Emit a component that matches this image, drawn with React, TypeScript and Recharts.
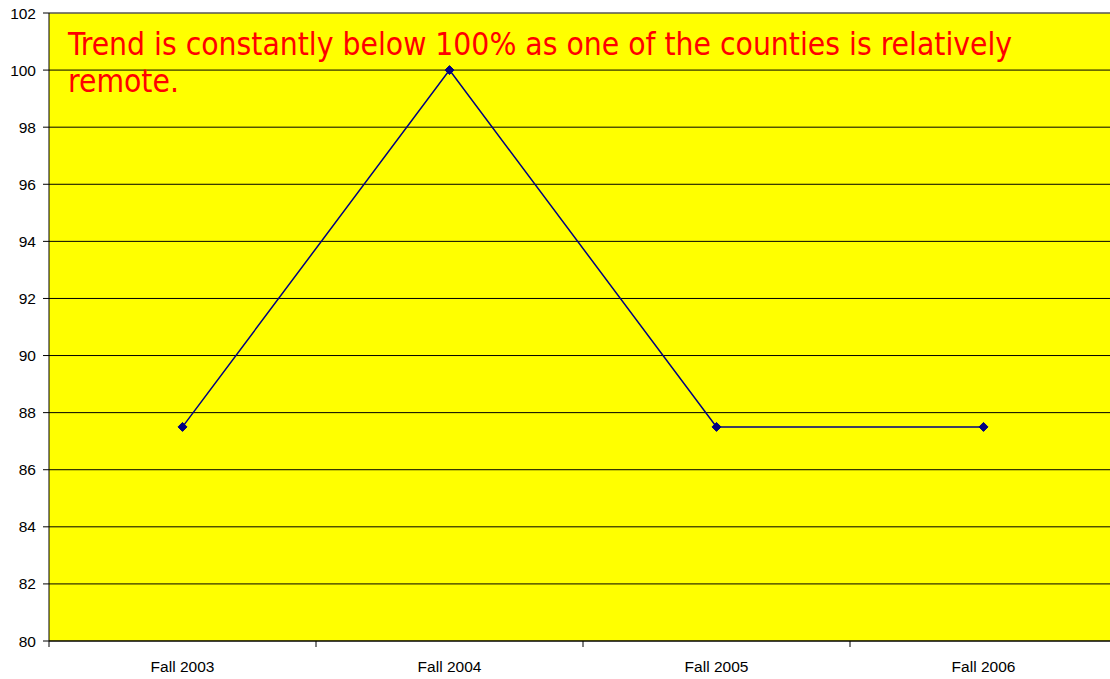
import { LineChart, Line, XAxis, YAxis, CartesianGrid, ReferenceLine, Customized } from 'recharts'

const terms = ['Fall 2003', 'Fall 2004', 'Fall 2005', 'Fall 2006']
const rates = [87.5, 100, 87.5, 87.5]
const yTicks = [80, 82, 84, 86, 88, 90, 92, 94, 96, 98, 100, 102]
const noteLines = [
  'Trend is constantly below 100% as one of the counties is relatively',
  'remote.',
]

// points sit in the middle of each category slot; integer ticks mark the slot edges
const data = terms.map((term, i) => ({ pos: i + 0.5, term, rate: rates[i] }))
const xTicks = terms.flatMap((_, i) => [i, i + 0.5]).concat(terms.length)

const axisFont = 'Liberation Sans, Arial, sans-serif'

function XTick(props: any) {
  const { x, y, payload } = props
  const v = payload.value as number
  if (Number.isInteger(v)) {
    return <line x1={x} x2={x} y1={y - 8} y2={y - 2} stroke="#000" />
  }
  const label = terms[Math.floor(v)]
  return (
    <text x={x} y={y + 23} textAnchor="middle" fontSize={15.5} fontFamily={axisFont} fill="#000">
      {label}
    </text>
  )
}

function YTick(props: any) {
  const { x, y, payload } = props
  return (
    <text x={x} y={y + 5.5} textAnchor="end" fontSize={15.5} fontFamily={axisFont} fill="#000">
      {payload.value}
    </text>
  )
}

function Diamond(props: any) {
  const { cx, cy } = props
  if (cx == null || cy == null) return null
  const r = 4.5
  return (
    <polygon
      points={`${cx},${cy - r} ${cx + r},${cy} ${cx},${cy + r} ${cx - r},${cy}`}
      fill="#000080"
      stroke="#000080"
    />
  )
}

function Note() {
  return (
    <g>
      {noteLines.map((line, i) => (
        <text
          key={i}
          x={68}
          y={55 + i * 37}
          fill="#ff0000"
          fontSize={31.5}
          fontFamily="DejaVu Sans Condensed, DejaVu Sans, sans-serif"
        >
          {line}
        </text>
      ))}
    </g>
  )
}

export default function App() {
  return (
    <div style={{ position: 'absolute', left: 0, top: 0, width: 1110, height: 679, overflow: 'hidden', background: '#fff' }}>
      <LineChart width={1120} height={679} data={data} margin={{ top: 13, right: 3, bottom: 0, left: 0 }}>
        <CartesianGrid vertical={false} stroke="#000" fill="#ffff00" fillOpacity={1} />
        <XAxis
          dataKey="pos"
          type="number"
          domain={[0, terms.length]}
          ticks={xTicks}
          interval={0}
          height={38}
          stroke="#000"
          tickLine={false}
          tick={<XTick />}
        />
        <YAxis
          type="number"
          domain={[80, 102]}
          ticks={yTicks}
          interval={0}
          width={49}
          stroke="#000"
          tickSize={6}
          tickMargin={7}
          tick={<YTick />}
        />
        <ReferenceLine y={102} stroke="#808080" />
        <Line
          dataKey="rate"
          stroke="#000080"
          strokeWidth={1.5}
          dot={<Diamond />}
          isAnimationActive={false}
        />
        <Customized component={Note} />
      </LineChart>
    </div>
  )
}
